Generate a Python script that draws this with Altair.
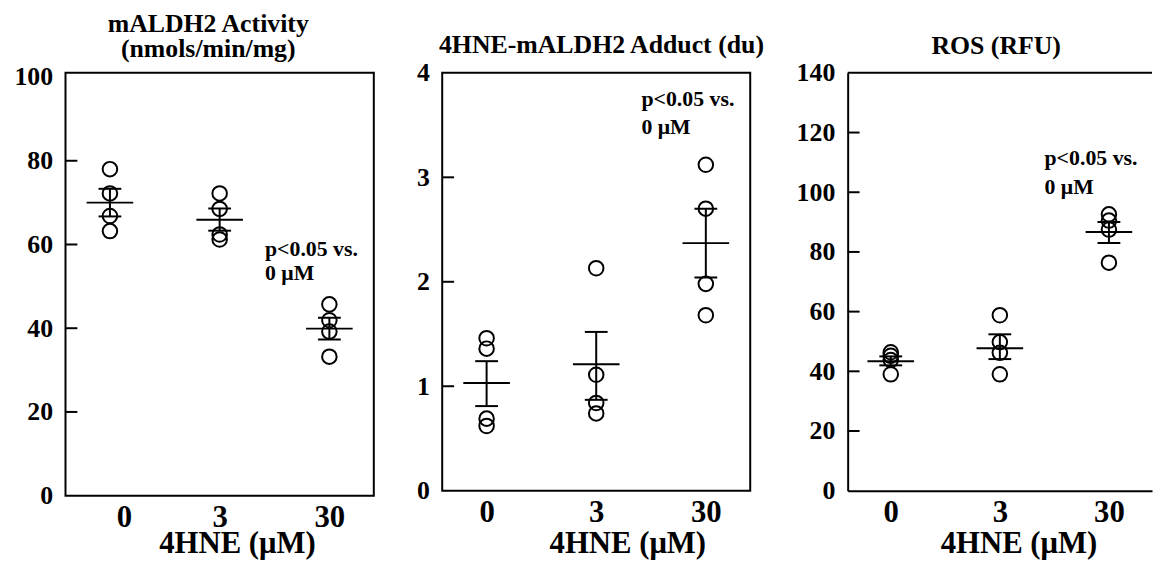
import altair as alt
import pandas as pd

FONT = "Liberation Serif"
groups = ["0", "3", "30"]

# Panel 1: mALDH2 activity (nmols/min/mg)
act_pts = [[78.0, 72.2, 66.8, 63.2], [72.2, 68.5, 62.4, 61.2], [45.7, 41.9, 39.2, 33.2]]
act_mean = [70.0, 65.9, 39.9]
act_hi = [73.3, 68.6, 42.5]
act_lo = [66.7, 63.3, 37.3]
act_inner_ticks = [20, 40, 60, 80]
act_labels = [0, 20, 40, 60, 80, 100]
act_note_y = [58.9, 53.1]

# Panel 2: 4HNE-mALDH2 adduct (du)
add_pts = [[1.46, 1.36, 0.69, 0.62], [2.13, 1.11, 0.84, 0.74], [3.12, 2.70, 1.98, 1.68]]
add_mean = [1.03, 1.21, 2.37]
add_hi = [1.24, 1.52, 2.70]
add_lo = [0.81, 0.87, 2.04]
add_inner_ticks = [1, 2, 3]
add_labels = [0, 1, 2, 3, 4]
add_note_y = [3.75, 3.48]

# Panel 3: ROS (RFU)
ros_pts = [[46.4, 45.2, 43.8, 39.0], [58.8, 49.8, 46.2, 39.0], [92.6, 90.5, 87.5, 76.4]]
ros_mean = [43.4, 47.7, 86.7]
ros_hi = [45.0, 52.4, 90.0]
ros_lo = [42.0, 44.1, 83.0]
ros_inner_ticks = [20, 40, 60, 80, 100, 120]
ros_labels = [0, 20, 40, 60, 80, 100, 120, 140]
ros_note_y = [111.5, 101.8]

note_lines = ["p<0.05 vs.", "0 \u03bcM"]


def panel(pts, mean, hi, lo, inner, labels, domain, width, height, pad,
          title, t_offset, t_dx, note_y, xt_x, xt_y, full_frame, first_label_shift=0):
    df_pts = pd.DataFrame({
        "g": [g for g, vals in zip(groups, pts) for _ in vals],
        "v": [v for vals in pts for v in vals],
    })
    df_sum = pd.DataFrame({"g": groups, "mean": mean, "hi": hi, "lo": lo})
    df_tick = pd.DataFrame({"t": inner})
    df_note = pd.DataFrame({"g": ["30", "30"], "y": note_y, "txt": note_lines})

    xs = alt.Scale(type="point", domain=groups, padding=pad)
    ys = alt.Scale(domain=domain, nice=False, zero=True)
    xax_kw = dict(title="4HNE (\u03bcM)", labelAngle=0, ticks=False, tickSize=0,
                  domain=not full_frame, domainColor="black", domainWidth=2,
                  labelFont=FONT, labelFontWeight="bold", labelFontSize=31,
                  labelPadding=7, labelColor="black",
                  titleFont=FONT, titleFontWeight="bold", titleFontSize=31,
                  titleColor="black", titleX=xt_x, titleY=xt_y,
                  titleAlign="center", titleBaseline="alphabetic", grid=False)
    if first_label_shift:
        xax_kw["labelOffset"] = {"condition": {"test": "datum.value === '0'",
                                               "value": first_label_shift},
                                 "value": 0}
    xax = alt.Axis(**xax_kw)
    yax = alt.Axis(title=None, values=labels, format="d", ticks=False, tickSize=0,
                   domain=not full_frame, domainColor="black", domainWidth=2,
                   labelFont=FONT, labelFontWeight="bold", labelFontSize=26,
                   labelPadding=13, labelColor="black", grid=False)

    X = alt.X("g:N", scale=xs, axis=xax, sort=groups)

    pts_layer = alt.Chart(df_pts).mark_point(
        shape="circle", filled=False, size=215, strokeWidth=2, color="black", opacity=1
    ).encode(x=X, y=alt.Y("v:Q", scale=ys, axis=yax))
    mean_layer = alt.Chart(df_sum).mark_tick(
        orient="horizontal", size=47, thickness=2, color="black", opacity=1
    ).encode(x=X, y=alt.Y("mean:Q", scale=ys, axis=yax))
    hi_layer = alt.Chart(df_sum).mark_tick(
        orient="horizontal", size=23, thickness=2, color="black", opacity=1
    ).encode(x=X, y=alt.Y("hi:Q", scale=ys, axis=yax))
    lo_layer = alt.Chart(df_sum).mark_tick(
        orient="horizontal", size=23, thickness=2, color="black", opacity=1
    ).encode(x=X, y=alt.Y("lo:Q", scale=ys, axis=yax))
    bar_layer = alt.Chart(df_sum).mark_rule(strokeWidth=2, color="black").encode(
        x=X, y=alt.Y("lo:Q", scale=ys, axis=yax), y2="hi:Q")
    tick_layer = alt.Chart(df_tick).mark_rule(strokeWidth=2, color="black").encode(
        x=alt.value(0), x2=alt.value(12), y=alt.Y("t:Q", scale=ys, axis=yax))
    note_layer = alt.Chart(df_note).mark_text(
        align="left", baseline="middle", dx=-65, font=FONT, fontWeight="bold",
        fontSize=22, color="black"
    ).encode(x=X, y=alt.Y("y:Q", scale=ys, axis=yax), text="txt:N")

    layers = [tick_layer, bar_layer, mean_layer, hi_layer, lo_layer, pts_layer, note_layer]
    if full_frame:
        view = alt.ViewBackground(stroke="black", strokeWidth=2)
    else:
        top_rule = alt.Chart(pd.DataFrame({"s": [0]})).mark_rule(
            strokeWidth=2, color="black"
        ).encode(x=alt.value(0), x2=alt.value(width), y=alt.value(0))
        layers.append(top_rule)
        view = alt.ViewBackground(stroke="transparent")

    return alt.layer(*layers).properties(
        width=width, height=height, view=view,
        title=alt.TitleParams(text=title, font=FONT, fontWeight="bold", fontSize=26,
                              lineHeight=25, color="black", anchor="middle",
                              frame="group", offset=t_offset, dx=t_dx),
    )


def spacer(w, h):
    return alt.Chart(pd.DataFrame({"s": [0]})).mark_point(opacity=0).encode(
        x=alt.value(0), y=alt.value(0)
    ).properties(width=w, height=h, view=alt.ViewBackground(stroke="transparent"))


p1 = panel(act_pts, act_mean, act_hi, act_lo, act_inner_ticks, act_labels, [0, 101],
           311, 426.5, 0.405, ["mALDH2 Activity", "(nmols/min/mg)"], 2.5, -11.5,
           act_note_y, 173, 57, True, first_label_shift=14)
p2 = panel(add_pts, add_mean, add_hi, add_lo, add_inner_ticks, add_labels, [0, 4],
           310.7, 421.5, 0.405, "4HNE-mALDH2 Adduct (du)", 2, 5.3,
           add_note_y, 186.7, 62, True)
p3 = panel(ros_pts, ros_mean, ros_hi, ros_lo, ros_inner_ticks, ros_labels, [0, 140],
           307, 421.5, 0.395, "ROS (RFU)", 0.6, -3.7,
           ros_note_y, 172.3, 62, False)

chart = alt.hconcat(p1, spacer(68.3, 421.5), p2, spacer(97.7, 421.5), p3,
                    spacing=0, bounds="flush").properties(
    padding={"left": 5, "top": -1, "right": 0, "bottom": 0},
    background="white",
)

chart.save("out.html", embed_options={"renderer": "svg", "actions": False})
